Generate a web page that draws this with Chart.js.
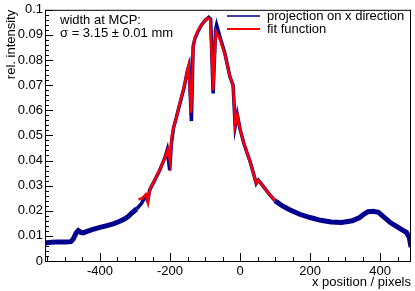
<!DOCTYPE html>
<html>
<head>
<meta charset="utf-8">
<script src="https://cdn.jsdelivr.net/npm/chart.js@4.4.0/dist/chart.umd.min.js"></script>
<style>
  html, body { margin: 0; padding: 0; background: #fff; }
  #wrap { width: 415px; height: 291px; }
</style>
</head>
<body>
<div id="wrap"><canvas id="profile"></canvas></div>
<script>
/* projection of the MCP image on x, with the fit on top */

const projX = [-557, -540, -520, -500, -483, -476, -468, -462, -455, -448, -435, -420, -400,
  -380, -360, -345, -330, -323, -320, -310, -295, -282, -270, -264, -258, -245, -230, -215,
  -208, -201, -196, -190, -185, -175, -160, -150, -146, -139, -134, -129, -120, -110, -100,
  -90, -84, -77, -70, -67, -57, -43, -29, -20, -14, -8, 0, 10, 20, 29, 38, 46, 52, 58, 70,
  85, 100, 120, 140, 170, 200, 230, 260, 290, 320, 340, 355, 365, 380, 395, 410, 430, 450,
  465, 475, 483, 488];
const projY = [0.0072, 0.0075, 0.0076, 0.0076, 0.0077, 0.0088, 0.0112, 0.0121, 0.0114, 0.0112,
  0.0119, 0.0126, 0.0134, 0.0141, 0.0149, 0.0157, 0.0167, 0.0174, 0.0176, 0.0190, 0.0208,
  0.0228, 0.0258, 0.0240, 0.0283, 0.0318, 0.0360, 0.0410, 0.0442, 0.0361, 0.0470, 0.0530,
  0.0555, 0.0610, 0.0690, 0.0760, 0.0778, 0.0557, 0.0855, 0.0885, 0.0915, 0.0940, 0.0958,
  0.0970, 0.0962, 0.0667, 0.0920, 0.0940, 0.0890, 0.0824, 0.0733, 0.0700, 0.0537, 0.0583,
  0.0525, 0.0472, 0.0430, 0.0394, 0.0350, 0.0309, 0.0322, 0.0312, 0.0290, 0.0263, 0.0240,
  0.0220, 0.0205, 0.0186, 0.0173, 0.0162, 0.0155, 0.0153, 0.0160, 0.0172, 0.0188, 0.0196,
  0.0198, 0.0194, 0.0176, 0.0152, 0.0135, 0.0122, 0.0114, 0.0095, 0.0055];

const fitX = [-290, -280, -269, -263, -257, -245, -230, -215, -206, -200, -195, -190, -185,
  -175, -160, -150, -147, -140, -133, -129, -120, -110, -100, -92, -85, -77, -69, -57, -43,
  -29, -20, -14, -8, 0, 10, 20, 29, 38, 46, 52, 58, 70, 85, 100];
const fitY = [0.0245, 0.0250, 0.0264, 0.0232, 0.0287, 0.0320, 0.0362, 0.0410, 0.0444, 0.0394,
  0.0500, 0.0530, 0.0555, 0.0612, 0.0695, 0.0762, 0.0779, 0.0590, 0.0863, 0.0890, 0.0918,
  0.0940, 0.0958, 0.0968, 0.0960, 0.0680, 0.0915, 0.0880, 0.0820, 0.0733, 0.0700, 0.0540,
  0.0583, 0.0525, 0.0472, 0.0430, 0.0394, 0.0350, 0.0309, 0.0322, 0.0312, 0.0290, 0.0263,
  0.0240];

const xTicks = [-400, -200, 0, 200, 400];
const yTicks = [0, 0.01, 0.02, 0.03, 0.04, 0.05, 0.06, 0.07, 0.08, 0.09, 0.1];

const seriesNames = ['projection on x direction', 'fit function'];
const infoLines = ['width at MCP:', 'σ = 3.15 ± 0.01 mm'];

const FAMILY = '"Liberation Sans", Arial, sans-serif';
const FONT = '13px ' + FAMILY;
const BLUE = '#00008c';
const RED = '#ff0000';

const toPoints = (xs, ys) => xs.map((x, i) => ({ x: x, y: ys[i] }));

/* ROOT style frame: box, ticks pointing inwards, titles at the axis ends */
const rootFrame = {
  id: 'rootFrame',
  afterDraw(chart) {
    const ctx = chart.ctx;
    const a = chart.chartArea;
    const xs = chart.scales.x;
    const ys = chart.scales.y;
    ctx.save();
    ctx.strokeStyle = '#000';
    ctx.lineWidth = 1;
    ctx.strokeRect(a.left + 0.5, a.top + 0.5, a.right - a.left - 1, a.bottom - a.top);

    ctx.beginPath();
    // x ticks: major every 200, minor every 50
    for (let v = -550; v <= 488; v += 50) {
      const px = Math.round(xs.getPixelForValue(v)) + 0.5;
      const len = v % 200 === 0 ? 8 : 4;
      ctx.moveTo(px, a.bottom);
      ctx.lineTo(px, a.bottom - len);
    }
    // y ticks: major every 0.01, minor every 0.002
    for (let k = 0; k <= 50; k++) {
      const py = Math.round(ys.getPixelForValue(k * 0.002)) + 0.5;
      const len = k % 5 === 0 ? 8 : 4;
      ctx.moveTo(a.left, py);
      ctx.lineTo(a.left + len, py);
    }
    ctx.stroke();

    ctx.fillStyle = '#000';
    ctx.font = FONT;
    ctx.textBaseline = 'middle';

    // axis titles
    ctx.textAlign = 'right';
    ctx.fillText('x position / pixels', a.right, 282);
    ctx.save();
    ctx.translate(11, a.top);
    ctx.rotate(-Math.PI / 2);
    ctx.fillText('rel. intensity', 0, 0);
    ctx.restore();

    // width text
    ctx.textAlign = 'left';
    ctx.fillText(infoLines[0], 60, 20);
    ctx.fillText(infoLines[1], 60, 33);

    // legend
    const rows = [
      { c: BLUE, w: 1.5, y: 16 },
      { c: RED, w: 2, y: 29 },
    ];
    rows.forEach((r, i) => {
      ctx.strokeStyle = r.c;
      ctx.lineWidth = r.w;
      ctx.beginPath();
      ctx.moveTo(227, r.y);
      ctx.lineTo(260, r.y);
      ctx.stroke();
      ctx.fillText(seriesNames[i], 267, r.y);
    });
    ctx.restore();
  },
};

new Chart(document.getElementById('profile').getContext('2d'), {
  type: 'line',
  data: {
    datasets: [
      {
        label: seriesNames[0],
        data: toPoints(projX, projY),
        borderColor: BLUE,
        borderWidth: 5,
        pointRadius: 0,
        tension: 0,
        order: 1,
        // error bars are small near the peak, so the band is thinner there
        segment: {
          borderWidth: (c) => (c.p0.parsed.x >= -300 && c.p1.parsed.x <= 105 ? 3.5 : 5),
        },
      },
      {
        label: seriesNames[1],
        data: toPoints(fitX, fitY),
        borderColor: RED,
        borderWidth: 2.5,
        pointRadius: 0,
        tension: 0,
        order: 0,
      },
    ],
  },
  options: {
    responsive: true,
    maintainAspectRatio: false,
    animation: false,
    layout: { padding: { top: 5, right: 4, left: 0, bottom: 0 } },
    plugins: {
      legend: { display: false },
      tooltip: { enabled: false },
    },
    scales: {
      x: {
        type: 'linear',
        min: -557,
        max: 488,
        grid: { display: false, drawTicks: false },
        border: { display: false },
        afterFit(scale) { scale.height = 30; },
        afterBuildTicks(scale) { scale.ticks = xTicks.map((v) => ({ value: v })); },
        ticks: {
          color: '#000',
          font: { family: FAMILY, size: 13 },
          padding: 3,
          maxRotation: 0,
        },
      },
      y: {
        type: 'linear',
        min: 0,
        max: 0.1,
        grid: { display: false, drawTicks: false },
        border: { display: false },
        afterFit(scale) { scale.width = 45; },
        afterBuildTicks(scale) { scale.ticks = yTicks.map((v) => ({ value: v })); },
        ticks: {
          color: '#000',
          font: { family: FAMILY, size: 13 },
          padding: 2,
          callback: (v) => String(+v.toFixed(2)),
        },
      },
    },
  },
  plugins: [rootFrame],
});
</script>
</body>
</html>
